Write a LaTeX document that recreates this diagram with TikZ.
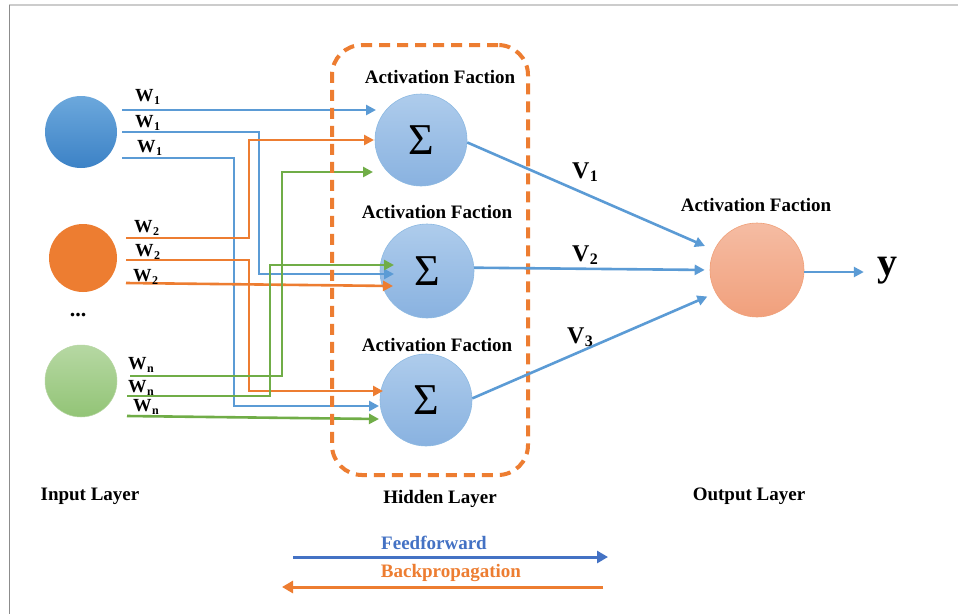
\documentclass[tikz,border=0pt]{standalone}
\usepackage{fontspec}
\setmainfont{Liberation Serif}
\usetikzlibrary{arrows.meta,calc}
\definecolor{cblue}{HTML}{5B9BD5}
\definecolor{corange}{HTML}{ED7D31}
\definecolor{cgreen}{HTML}{70AD47}
\definecolor{fblue}{HTML}{4472C4}
\newcommand{\wlab}[1]{W\kern0.3pt{\fontsize{12}{12}\selectfont\raisebox{-2.5pt}{#1}}}
\newcommand{\vlab}[1]{V\kern0.3pt{\fontsize{16}{16}\selectfont\raisebox{-3pt}{#1}}}
\begin{document}
\begin{tikzpicture}[x=1pt,y=-1pt,
  lbl/.style={font=\fontsize{19}{21}\selectfont\bfseries, inner sep=0pt},
  wlbl/.style={font=\fontsize{18.5}{20}\selectfont\bfseries, inner sep=0pt, anchor=west},
  vlbl/.style={font=\fontsize{24}{26}\selectfont\bfseries, inner sep=0pt},
  wire/.style={line width=2.6pt, -{Triangle[length=10pt,width=10pt]}},
  incirc/.style={circle, inner sep=0pt},
  hid/.style={circle, inner sep=0pt, minimum size=92pt, draw=cblue!70, line width=0.6pt,
    top color={rgb,255:red,174;green,204;blue,236}, bottom color={rgb,255:red,137;green,178;blue,224},
    font=\fontsize{44}{44}\selectfont},
]
\useasboundingbox (0,0) rectangle (958,614);
\fill[white] (0,0) rectangle (958,614);
% frame
\draw[black!20, line width=1.5pt] (9,5) -- (958,5);
\draw[black!45, line width=1pt] (9,5) -- (9,614);

% input nodes
\node[incirc, minimum size=72pt, top color={rgb,255:red,108;green,168;blue,220}, bottom color={rgb,255:red,60;green,130;blue,198}] (i1) at (81,132) {};
\node[incirc, minimum size=68pt, fill=corange] (i2) at (83,258) {};
\node[incirc, minimum size=72pt, draw=cgreen!50, line width=0.5pt, top color={rgb,255:red,182;green,216;blue,163}, bottom color={rgb,255:red,146;green,196;blue,118}] (i3) at (81,381) {};
\node[font=\fontsize{22}{22}\selectfont\bfseries, inner sep=0pt] (dots) at (78,315) {...};

% hidden nodes
\node[hid] (H1) at (421,140) {Σ};
\node[hid, minimum size=94pt] (H2) at (427,271) {Σ};
\node[hid] (H3) at (426,400) {Σ};

% output node
\node[circle, inner sep=0pt, minimum size=94pt, draw={rgb,255:red,240;green,160;blue,120}, line width=0.6pt,
  top color={rgb,255:red,245;green,188;blue,163}, bottom color={rgb,255:red,241;green,160;blue,124}] (O) at (757,270) {};

% labels
\node[lbl] (a1) at (440,77) {Activation Faction};
\node[lbl] (a2) at (437,212) {Activation Faction};
\node[lbl] (a3) at (437,345) {Activation Faction};
\node[lbl] (a4) at (756,205) {Activation Faction};

% start / end coordinates
\coordinate (b1s) at (122,110); \coordinate (b1e) at (376,110);
\coordinate (b2s) at (122,132); \coordinate (b2e) at (394,274);
\coordinate (b3s) at (122,158); \coordinate (b3e) at (379,406);
\coordinate (o1s) at (126,238); \coordinate (o1e) at (374,140);
\coordinate (o2s) at (126,260); \coordinate (o2e) at (383,391);
\coordinate (o3s) at (126,283); \coordinate (o3e) at (393,286);
\coordinate (g1s) at (130,376); \coordinate (g1e) at (373,172);
\coordinate (g2s) at (127,396); \coordinate (g2e) at (394,265);
\coordinate (g3s) at (127,416); \coordinate (g3e) at (379,419);

% wires
\draw[wire, cblue] (b1s) -- (b1e);
\draw[wire, cblue] (b2s) -- (259,132) -- (259,274) -- (b2e);
\draw[wire, cblue] (b3s) -- (234,158) -- (234,406) -- (b3e);
\draw[wire, corange] (o1s) -- (249,238) -- (249,140) -- (o1e);
\draw[wire, corange] (o2s) -- (249,260) -- (249,391) -- (o2e);
\draw[wire, corange] (o3s) -- (o3e);
\draw[wire, cgreen] (g1s) -- (282,376) -- (282,172) -- (g1e);
\draw[wire, cgreen] (g2s) -- (270,396) -- (270,265) -- (g2e);
\draw[wire, cgreen] (g3s) -- (g3e);

% W labels
\node[wlbl] (w11) at (135,97) {\wlab{1}};
\node[wlbl] (w12) at (135,123) {\wlab{1}};
\node[wlbl] (w13) at (137,148) {\wlab{1}};
\node[wlbl] (w21) at (134,228) {\wlab{2}};
\node[wlbl] (w22) at (135,252) {\wlab{2}};
\node[wlbl] (w23) at (133,277) {\wlab{2}};
\node[wlbl] (wn1) at (128,365) {\wlab{n}};
\node[wlbl] (wn2) at (128,388) {\wlab{n}};
\node[wlbl] (wn3) at (133,407) {\wlab{n}};

% hidden box
\node[draw=corange, line width=4pt, dash pattern=on 11pt off 7pt, rounded corners=30pt,
  minimum width=196pt, minimum height=430pt, inner sep=0pt] (hbox) at (430,260) {};

% hidden -> output
\draw[wire, cblue, shorten >=10pt] (H1.-3) -- (O.155);
\draw[wire, cblue, shorten >=5pt] (H2.4) -- (O.west);
\draw[wire, cblue, shorten >=9pt] (H3.2.5) -- (O.209);
\node[vlbl] (v1) at (585,172) {\vlab{1}};
\node[vlbl] (v2) at (585,255) {\vlab{2}};
\node[vlbl] (v3) at (580,337) {\vlab{3}};

% output -> y
\node[font=\fontsize{40}{40}\selectfont\bfseries, inner sep=0pt, anchor=base] (yy) at (887,275) {y};
\draw[wire, cblue, shorten >=13pt] ([yshift=-2pt]O.east) -- ([yshift=-2pt]O.east -| yy.west);

% layer labels
\node[lbl] (il) at (90,496) {Input Layer};
\node[lbl] (hl) at (440,499) {Hidden Layer};
\node[lbl] (ol) at (749,496) {Output Layer};

% legend
\node[lbl, text=fblue] (ff) at (434,543) {Feedforward};
\node[lbl, text=corange] (bp) at (451,573) {Backpropagation};
\coordinate (ffs) at (293,557); \coordinate (ffe) at (608,557);
\coordinate (bps) at (603,587); \coordinate (bpe) at (282,587);
\draw[line width=3pt, fblue, -{Triangle[length=11pt,width=12pt]}] (ffs) -- (ffe);
\draw[line width=3pt, corange, -{Triangle[length=11pt,width=12pt]}] (bps) -- (bpe);
\end{tikzpicture}
\end{document}
